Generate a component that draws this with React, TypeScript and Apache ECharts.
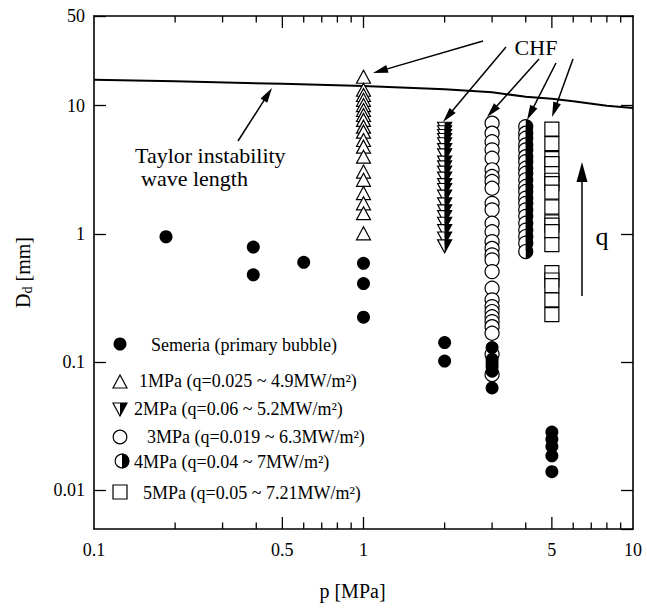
import React, { useEffect, useRef } from 'react';
import * as echarts from 'echarts';

const FONT = '"Liberation Serif", "Times New Roman", Times, serif';

// Semeria (primary bubble)
const semeriaP = [0.185, 0.39, 0.39, 0.6, 1, 1, 1, 2, 2, 3, 3, 3, 3, 3, 3, 5, 5, 5, 5, 5];
const semeriaD = [0.95, 0.79, 0.48, 0.6, 0.59, 0.41, 0.224, 0.142, 0.102, 0.13, 0.105, 0.098, 0.092, 0.085, 0.063, 0.0285, 0.025, 0.022, 0.0186, 0.014];

// 1 MPa
const d1MPa = [16.8, 13.3, 12.1, 11.1, 10.1, 9.25, 8.46, 7.74, 6.86, 6.27, 5.4, 4.79, 4.0, 3.06, 2.64, 2.08, 1.73, 1.45, 1.01];
// 2 MPa
const d2MPa = [6.6, 6.2, 5.8, 5.4, 5.0, 4.5, 4.1, 3.6, 3.3, 3.0, 2.7, 2.4, 2.2, 1.95, 1.7, 1.5, 1.35, 1.2, 1.05, 0.92, 0.8];
// 3 MPa
const d3MPa = [7.3, 6.1, 5.23, 4.52, 3.89, 3.16, 2.8, 2.56, 2.27, 1.73, 1.54, 1.21, 1.04, 0.87, 0.77, 0.686, 0.627, 0.508, 0.377, 0.306, 0.271, 0.248, 0.226, 0.207, 0.189, 0.168, 0.115, 0.08];
// 4 MPa
const d4MPa = [6.86, 6.1, 5.57, 4.94, 4.52, 4.0, 3.66, 3.25, 2.97, 2.64, 2.34, 2.14, 1.9, 1.73, 1.54, 1.37, 1.21, 1.07, 0.953, 0.847, 0.728];
// 5 MPa
const d5MPa = [6.55, 5.06, 3.86, 3.53, 2.95, 2.62, 2.47, 2.12, 1.62, 1.24, 1.17, 1.04, 0.826, 0.499, 0.437, 0.395, 0.306, 0.235];

// Taylor instability wave length
const taylorP = [0.1, 0.2, 0.5, 1, 2, 3, 4, 5, 6, 8, 10];
const taylorD = [15.9, 15.5, 14.8, 14.2, 13.4, 12.7, 11.75, 11.3, 10.8, 10.0, 9.6];

// x axis ticks and labels
const xMajorTicks = [0.5, 1, 5];
const xMinorTicks = [0.2, 0.3, 0.4, 0.6, 0.7, 0.8, 0.9, 2, 3, 4, 6, 7, 8, 9];
const xLabelValues = [0.1, 0.5, 1, 5, 10];
const xLabelTexts = ['0.1', '0.5', '1', '5', '10'];

const X_MIN = 0.1, X_MAX = 10, Y_MIN = 0.005, Y_MAX = 50;

const col = (p: number, arr: number[]) => arr.map((d) => [p, d]);

function arrow(x1: number, y1: number, x2: number, y2: number, headLen = 15, headW = 8, lw = 1.5) {
  const dx = x2 - x1, dy = y2 - y1;
  const L = Math.hypot(dx, dy);
  const ux = dx / L, uy = dy / L;
  const bx = x2 - ux * headLen, by = y2 - uy * headLen;
  const px = (-uy * headW) / 2, py = (ux * headW) / 2;
  return [
    { type: 'line', z: 100, shape: { x1, y1, x2: bx + ux * 2, y2: by + uy * 2 }, style: { stroke: '#000', lineWidth: lw } },
    { type: 'polygon', z: 100, shape: { points: [[x2, y2], [bx + px, by + py], [bx - px, by - py]] }, style: { fill: '#000' } },
  ];
}

const txt = (text: string, x: number, y: number, fontSize: number, align = 'left') => ({
  type: 'text',
  z: 100,
  x,
  y,
  style: { text, fontSize, fontFamily: FONT, fill: '#000', align, verticalAlign: 'middle' },
});

export default function App() {
  const ref = useRef<HTMLDivElement>(null);

  useEffect(() => {
    document.body.style.margin = '0';
    if (!ref.current) return;
    const chart = echarts.init(ref.current, undefined, { renderer: 'svg' });

    const openStyle = { color: '#fff', borderColor: '#000', borderWidth: 1.2, opacity: 1 };
    const solidStyle = { color: '#000', opacity: 1 };

    const yLabelFmt = (v: number) => (v < 0.007 ? '' : String(parseFloat(Number(v).toPrecision(2))));

    const axisLineStyle = { show: true, lineStyle: { color: '#000', width: 1.6 } };

    const legendX = 120;
    const LF = 18;
    const legend: any[] = [
      // Semeria
      { type: 'circle', z: 100, shape: { cx: legendX, cy: 344, r: 6.5 }, style: { fill: '#000' } },
      txt('Semeria (primary bubble)', 151, 345, LF),
      // 1 MPa triangle
      { type: 'polygon', z: 100, shape: { points: [[legendX, 375], [legendX - 7, 388], [legendX + 7, 388]] }, style: { fill: '#fff', stroke: '#000', lineWidth: 1.2 } },
      txt('1MPa (q=0.025 ~ 4.9MW/m²)', 139, 381, LF),
      // 2 MPa down triangle half filled
      { type: 'polygon', z: 100, shape: { points: [[legendX - 7, 403], [legendX + 7, 403], [legendX, 416]] }, style: { fill: '#fff', stroke: '#000', lineWidth: 1.2 } },
      { type: 'polygon', z: 101, shape: { points: [[legendX, 403], [legendX + 7, 403], [legendX, 416]] }, style: { fill: '#000' } },
      txt('2MPa (q=0.06 ~ 5.2MW/m²)', 134, 409, LF),
      // 3 MPa open circle
      { type: 'circle', z: 100, shape: { cx: legendX, cy: 437, r: 6.8 }, style: { fill: '#fff', stroke: '#000', lineWidth: 1.2 } },
      txt('3MPa (q=0.019 ~ 6.3MW/m²)', 147, 437, LF),
      // 4 MPa half circle
      { type: 'circle', z: 100, shape: { cx: legendX + 2, cy: 461, r: 6.8 }, style: { fill: '#fff', stroke: '#000', lineWidth: 1.2 } },
      { type: 'sector', z: 101, shape: { cx: legendX + 2, cy: 461, r0: 0, r: 7.4, startAngle: -Math.PI / 2, endAngle: Math.PI / 2, clockwise: true }, style: { fill: '#000' } },
      txt('4MPa (q=0.04 ~ 7MW/m²)', 134, 462, LF),
      // 5 MPa square
      { type: 'rect', z: 100, shape: { x: legendX - 7, y: 485, width: 14, height: 14 }, style: { fill: '#fff', stroke: '#000', lineWidth: 1.2 } },
      txt('5MPa (q=0.05 ~ 7.21MW/m²)', 143, 493, LF),
    ];

    const annotations: any[] = [
      txt('CHF', 536, 47, 22, 'center'),
      ...arrow(483, 41, 373, 73),
      ...arrow(506, 47, 443, 122),
      ...arrow(539, 59, 487, 117),
      ...arrow(556, 63, 527, 120),
      ...arrow(573, 59, 552, 117),
      txt('Taylor instability', 135, 155, 22),
      txt('wave length', 141, 178, 22),
      ...arrow(238, 141, 272, 88),
      ...arrow(582, 296, 582, 162, 20, 11),
      txt('q', 602, 236, 26, 'center'),
    ];

    const tickData = [
      ...xMajorTicks.map((v) => [v, 12]),
      ...xMinorTicks.map((v) => [v, 6.5]),
    ];

    const option: any = {
      animation: false,
      backgroundColor: '#fff',
      grid: { left: 94, top: 16, width: 539, height: 513, containLabel: false },
      xAxis: [
        {
          type: 'log', logBase: 10, min: X_MIN, max: X_MAX, position: 'bottom',
          axisLine: axisLineStyle, axisTick: { show: false }, axisLabel: { show: false }, splitLine: { show: false },
          name: 'p [MPa]', nameLocation: 'middle', nameGap: 52,
          nameTextStyle: { fontSize: 20, fontFamily: FONT, color: '#000', padding: [0, 22, 0, 0] },
        },
        {
          type: 'log', logBase: 10, min: X_MIN, max: X_MAX, position: 'top',
          axisLine: axisLineStyle, axisTick: { show: false }, axisLabel: { show: false }, splitLine: { show: false },
        },
      ],
      yAxis: [
        {
          type: 'log', logBase: 10, min: Y_MIN, max: Y_MAX, position: 'left',
          axisLine: axisLineStyle,
          axisTick: { show: true, inside: true, length: 12, lineStyle: { color: '#000', width: 1.3 } },
          axisLabel: { formatter: yLabelFmt, fontSize: 18, fontFamily: FONT, color: '#000', margin: 9, showMinLabel: false, showMaxLabel: true },
          splitLine: { show: false },
          name: '{a|D}{s|d}{a| [mm]}', nameLocation: 'middle', nameGap: 60, nameRotate: 90,
          nameTextStyle: {
            rich: {
              a: { fontSize: 20, fontFamily: FONT, color: '#000', lineHeight: 22 },
              s: { fontSize: 14, fontFamily: FONT, color: '#000', lineHeight: 14, verticalAlign: 'bottom' },
            },
          },
        },
        {
          type: 'log', logBase: 10, min: Y_MIN, max: Y_MAX, position: 'right',
          axisLine: axisLineStyle,
          axisTick: { show: true, inside: true, length: 12, lineStyle: { color: '#000', width: 1.3 } },
          axisLabel: { show: false }, splitLine: { show: false },
        },
      ],
      graphic: [...legend, ...annotations],
      series: [
        {
          name: 'Taylor', type: 'line', data: taylorP.map((p, i) => [p, taylorD[i]]),
          showSymbol: false, symbol: 'none', lineStyle: { color: '#000', width: 2 }, z: 2, silent: true,
        },
        { name: '1MPa', type: 'scatter', data: col(1, d1MPa), symbol: 'triangle', symbolSize: [14, 13], itemStyle: openStyle, z: 3, silent: true },
        { name: '2MPa', type: 'scatter', data: col(2, d2MPa), symbol: 'triangle', symbolRotate: 180, symbolSize: [14, 13], itemStyle: openStyle, z: 3, silent: true },
        { name: '2MPa-fill', type: 'scatter', data: col(2, d2MPa), symbol: 'path://M0,0 L10,0 L0,20 Z', symbolSize: [7, 13], symbolOffset: [3.5, 0], itemStyle: solidStyle, z: 4, silent: true },
        { name: '3MPa', type: 'scatter', data: col(3, d3MPa), symbol: 'circle', symbolSize: 14, itemStyle: openStyle, z: 3, silent: true },
        { name: '4MPa', type: 'scatter', data: col(4, d4MPa), symbol: 'circle', symbolSize: 14, itemStyle: openStyle, z: 3, silent: true },
        { name: '4MPa-fill', type: 'scatter', data: col(4, d4MPa), symbol: 'path://M0,0 A10,10 0 0 1 0,20 Z', symbolSize: [7, 14], symbolOffset: [3.5, 0], itemStyle: solidStyle, z: 4, silent: true },
        { name: '5MPa', type: 'scatter', data: col(5, d5MPa), symbol: 'rect', symbolSize: 14, itemStyle: openStyle, z: 3, silent: true },
        { name: 'Semeria', type: 'scatter', data: semeriaP.map((p, i) => [p, semeriaD[i]]), symbol: 'circle', symbolSize: 13, itemStyle: solidStyle, z: 6, silent: true },
        {
          name: 'xticks', type: 'custom', silent: true, z: 10, clip: false,
          data: tickData,
          renderItem: (params: any, api: any) => {
            const v = api.value(0);
            const len = api.value(1);
            const b = api.coord([v, Y_MIN]);
            const t = api.coord([v, Y_MAX]);
            const st = { stroke: '#000', lineWidth: 1.3 };
            return {
              type: 'group',
              children: [
                { type: 'line', shape: { x1: b[0], y1: b[1], x2: b[0], y2: b[1] - len }, style: st },
                { type: 'line', shape: { x1: t[0], y1: t[1], x2: t[0], y2: t[1] + len }, style: st },
              ],
            };
          },
        },
        {
          name: 'xlabels', type: 'custom', silent: true, z: 10, clip: false,
          data: xLabelValues.map((v) => [v, 1]),
          renderItem: (params: any, api: any) => {
            const v = api.value(0);
            const b = api.coord([v, Y_MIN]);
            return {
              type: 'text',
              x: b[0],
              y: b[1] + 12,
              style: { text: xLabelTexts[params.dataIndex], fontSize: 18, fontFamily: FONT, fill: '#000', align: 'center', verticalAlign: 'top' },
            };
          },
        },
      ],
    };

    chart.setOption(option);
    return () => chart.dispose();
  }, []);

  return <div ref={ref} style={{ width: 647, height: 608 }} />;
}
